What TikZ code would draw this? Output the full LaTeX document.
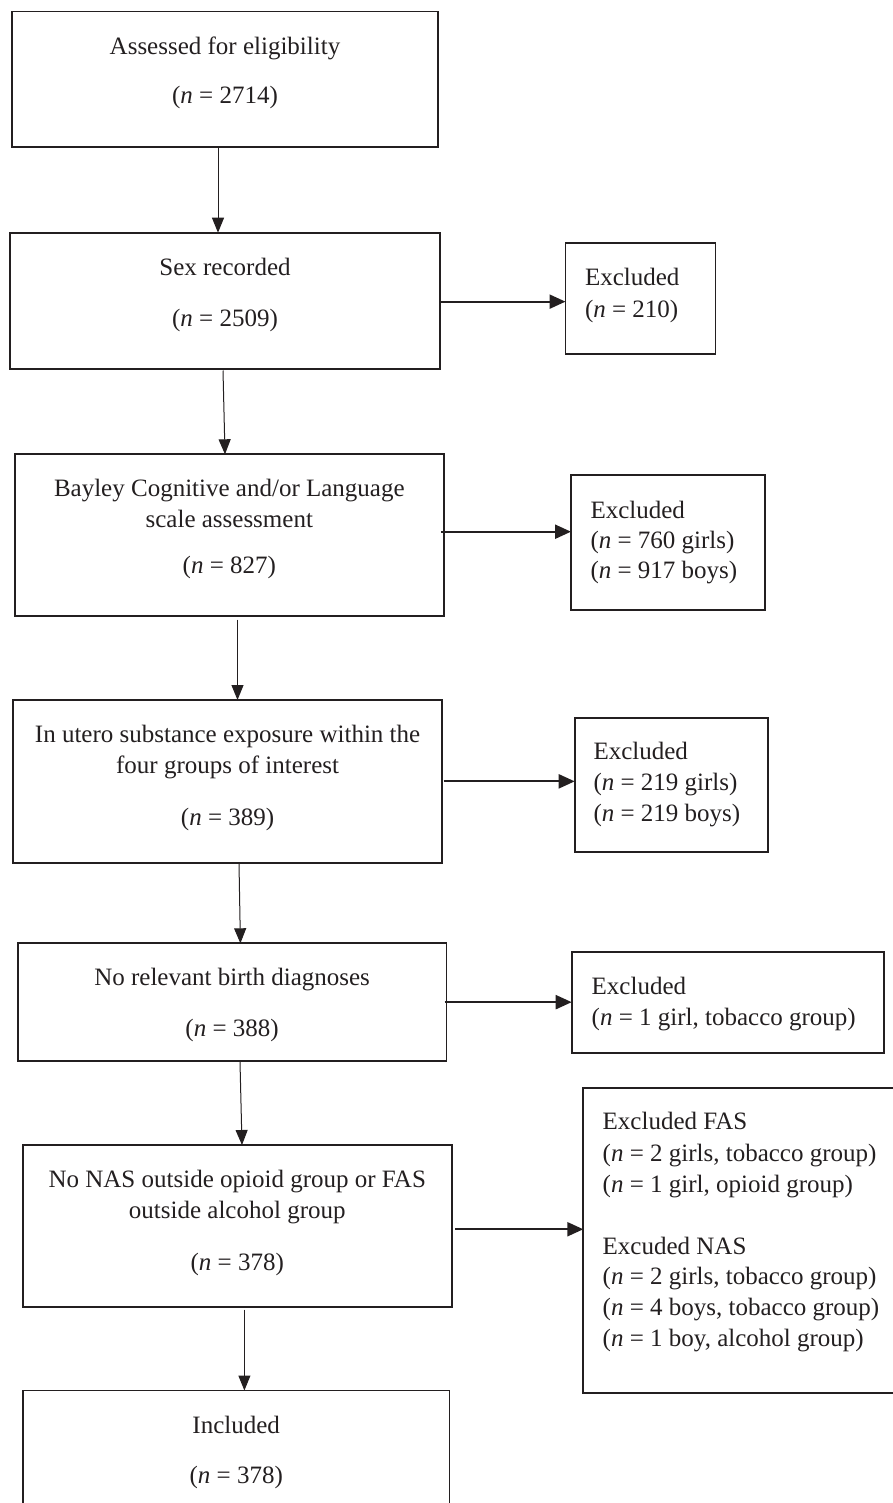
\documentclass[tikz,border=0pt]{standalone}
\usepackage{fontspec}
\setmainfont{Liberation Serif}
\usetikzlibrary{arrows.meta}
\definecolor{ink}{HTML}{231F20}
\begin{document}
\begin{tikzpicture}[x=1pt,y=-1pt,
  box/.style={draw=ink,line width=1.8pt,inner sep=0pt,outer sep=0pt},
  txt/.style={anchor=base,inner sep=0pt,outer sep=0pt,font=\fontsize{25}{31}\selectfont,text=ink},
  ltxt/.style={txt,anchor=base west},
  varr/.style={draw=ink,line width=1pt,-{Triangle[length=15pt,width=12pt]}},
  harr/.style={draw=ink,line width=2.2pt,-{Triangle[length=16pt,width=14pt]}}]
\useasboundingbox (0,0) rectangle (893,1503);

% main boxes
\node[box,minimum width=426pt,minimum height=135.5pt] (b1) at (225,79.25) {};
\node[box,minimum width=429.3pt,minimum height=136.3pt] (b2) at (225,300.85) {};
\node[box,minimum width=428.6pt,minimum height=161.4pt] (b3) at (229.3,535) {};
\node[box,minimum width=428.8pt,minimum height=162.7pt] (b4) at (227.6,781.35) {};
\node[box,minimum width=428.8pt,minimum height=117.7pt] (b5) at (232.1,1002.15) {};
\node[box,minimum width=428.7pt,minimum height=161.7pt] (b6) at (237.25,1225.85) {};
\node[box,minimum width=426.7pt,minimum height=119.5pt] (b7) at (236.2,1450.25) {};

% excluded boxes
\node[box,minimum width=150pt,minimum height=111.3pt] (e2) at (640.5,298.35) {};
\node[box,minimum width=194pt,minimum height=134.7pt] (e3) at (668,542.65) {};
\node[box,minimum width=192.9pt,minimum height=134.6pt] (e4) at (671.15,785) {};
\node[box,minimum width=312.6pt,minimum height=101pt] (e5) at (728,1002.8) {};
\node[box,minimum width=316.7pt,minimum height=305pt] (e6) at (741.65,1240.8) {};

% main box texts
\node[txt] (t1a) at (225,55) {Assessed for eligibility};
\node[txt] (t1b) at (225,104) {(\textit{n} = 2714)};
\node[txt] (t2a) at (225,276) {Sex recorded};
\node[txt] (t2b) at (225,326.5) {(\textit{n} = 2509)};
\node[txt] (t3a) at (229.3,496) {Bayley Cognitive and/or Language};
\node[txt] (t3b) at (229.3,527.5) {scale assessment};
\node[txt] (t3c) at (229.3,573.3) {(\textit{n} = 827)};
\node[txt] (t4a) at (227.6,742.7) {In utero substance exposure within the};
\node[txt] (t4b) at (227.6,773.5) {four groups of interest};
\node[txt] (t4c) at (227.6,825) {(\textit{n} = 389)};
\node[txt] (t5a) at (232.1,985) {No relevant birth diagnoses};
\node[txt] (t5b) at (232.1,1036.5) {(\textit{n} = 388)};
\node[txt] (t6a) at (237.25,1187.3) {No NAS outside opioid group or FAS};
\node[txt] (t6b) at (237.25,1218.3) {outside alcohol group};
\node[txt] (t6c) at (237.25,1270) {(\textit{n} = 378)};
\node[txt] (t7a) at (236.2,1433.3) {Included};
\node[txt] (t7b) at (236.2,1483.3) {(\textit{n} = 378)};

% excluded texts
\node[ltxt] (x2a) at (585,286) {Excluded};
\node[ltxt] (x2b) at (585,317) {(\textit{n} = 210)};
\node[ltxt] (x3a) at (590.5,518.3) {Excluded};
\node[ltxt] (x3b) at (590.5,548.3) {(\textit{n} = 760 girls)};
\node[ltxt] (x3c) at (590.5,578.3) {(\textit{n} = 917 boys)};
\node[ltxt] (x4a) at (593.5,759.3) {Excluded};
\node[ltxt] (x4b) at (593.5,790) {(\textit{n} = 219 girls)};
\node[ltxt] (x4c) at (593.5,821.7) {(\textit{n} = 219 boys)};
\node[ltxt] (x5a) at (591.7,994) {Excluded};
\node[ltxt] (x5b) at (591.7,1025.8) {(\textit{n} = 1 girl, tobacco group)};
\node[ltxt] (x6a) at (602.7,1129.3) {Excluded FAS};
\node[ltxt] (x6b) at (602.7,1161.5) {(\textit{n} = 2 girls, tobacco group)};
\node[ltxt] (x6c) at (602.7,1192.7) {(\textit{n} = 1 girl, opioid group)};
\node[ltxt] (x6d) at (602.7,1254) {Excuded NAS};
\node[ltxt] (x6e) at (602.7,1284.3) {(\textit{n} = 2 girls, tobacco group)};
\node[ltxt] (x6f) at (602.7,1315.3) {(\textit{n} = 4 boys, tobacco group)};
\node[ltxt] (x6g) at (602.7,1346.7) {(\textit{n} = 1 boy, alcohol group)};

% vertical arrows
\draw[varr] ([xshift=-7pt,yshift=-1pt]b1.south) -- ([xshift=-7pt]b2.north);
\draw[varr] ([xshift=-2pt,yshift=-1.5pt]b2.south) -- ([xshift=-4.3pt]b3.north);
\draw[varr] ([xshift=8.2pt,yshift=-4pt]b3.south) -- ([xshift=9.9pt]b4.north);
\draw[varr] ([xshift=11.4pt,yshift=-0.5pt]b4.south) -- ([xshift=8.3pt]b5.north);
\draw[varr] ([xshift=7.9pt,yshift=-1pt]b5.south) -- ([xshift=4.75pt]b6.north);
\draw[varr] ([xshift=7.15pt,yshift=-3pt]b6.south) -- ([xshift=8.2pt]b7.north);

% horizontal arrows
\draw[harr] ([yshift=-0.8pt]b2.east) -- ([yshift=-0.8pt]b2.east -| e2.west);
\draw[harr] ([yshift=3.3pt,xshift=-2.5pt]b3.east) -- ([yshift=3.3pt]b3.east -| e3.west);
\draw[harr] ([xshift=1.5pt]b4.east) -- (b4.east -| e4.west);
\draw[harr] ([xshift=-2pt]b5.east) -- (b5.east -| e5.west);
\draw[harr] ([yshift=-3.4pt,xshift=3.4pt]b6.east) -- ([yshift=-3.4pt]b6.east -| e6.west);
\end{tikzpicture}
\end{document}
